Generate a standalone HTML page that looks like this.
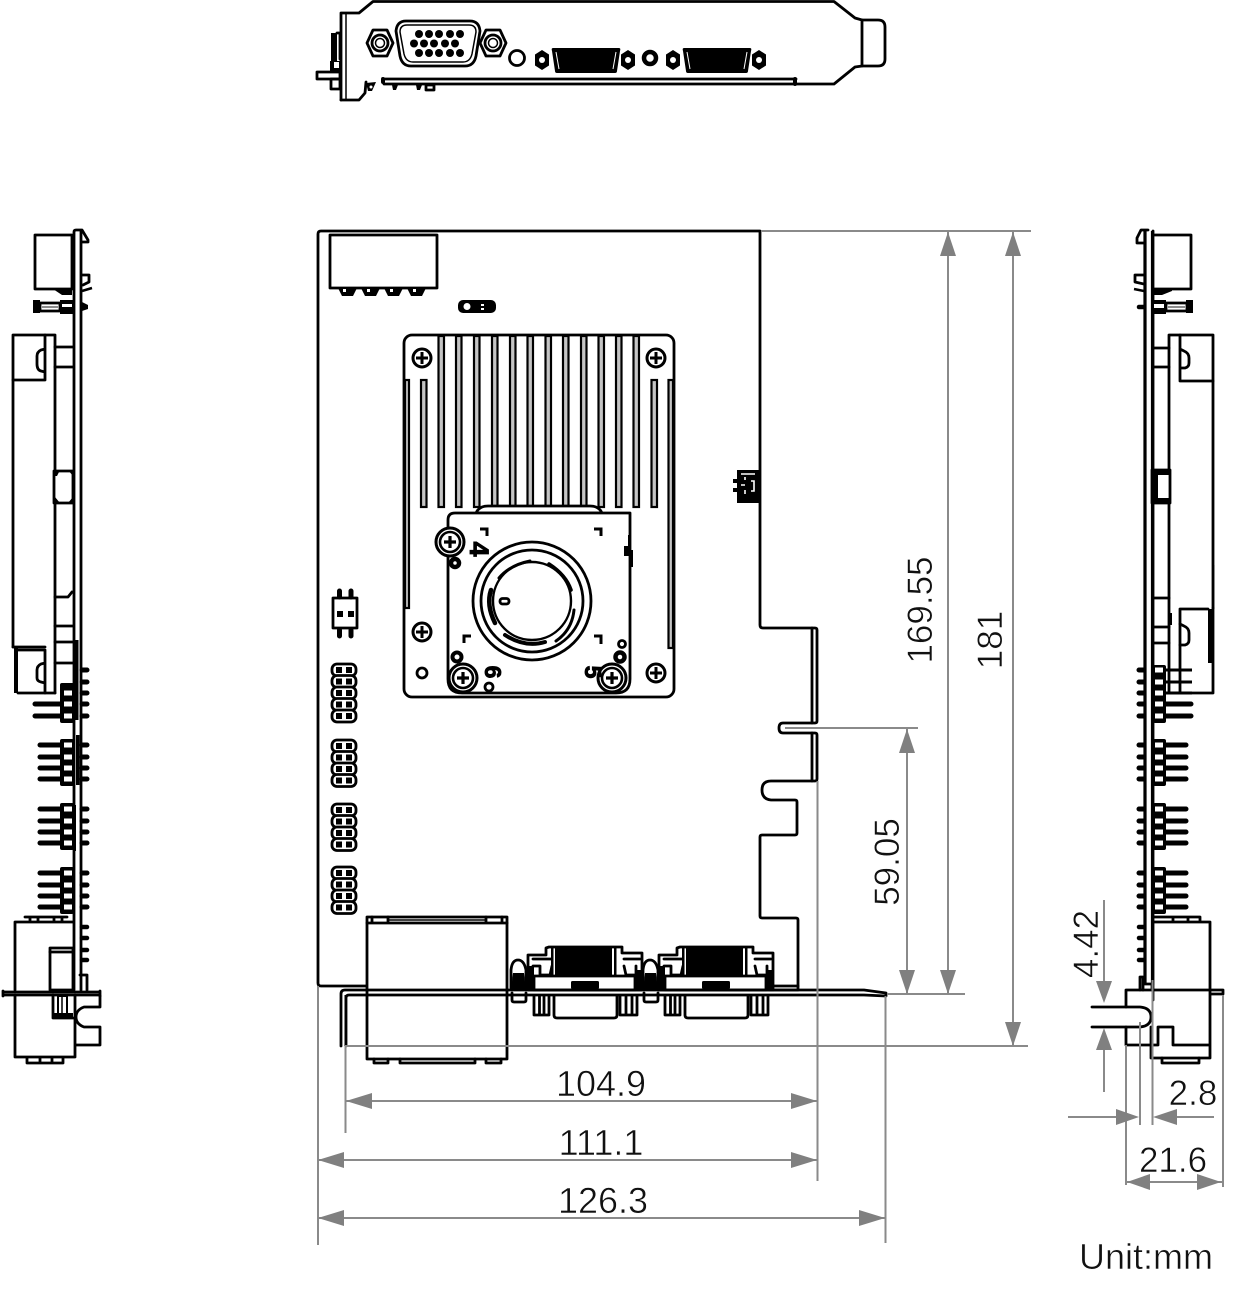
<!DOCTYPE html>
<html><head><meta charset="utf-8"><style>
html,body{margin:0;padding:0;background:#fff}
svg{display:block}
text{font-family:"Liberation Sans",sans-serif;font-size:35px;fill:#111;stroke:#fff;stroke-width:.55px}
.k{fill:none;stroke:#000;stroke-width:2.8;stroke-linejoin:round;stroke-linecap:round}
.t{fill:none;stroke:#000;stroke-width:1.5}
.w{fill:#fff;stroke:#000;stroke-width:2.8;stroke-linejoin:round}
.b{fill:#000;stroke:none}
.c{fill:#fff;stroke:none}
.g{fill:none;stroke:#8a8a8a;stroke-width:2}
.a{fill:#808080;stroke:none}
.p{stroke:#000;stroke-width:5;stroke-linecap:round;fill:none}
.p2{stroke:#000;stroke-width:4.500;stroke-linecap:round;fill:none}
.f{fill:#c4c4c4;stroke:#000;stroke-width:2.2}
.n{stroke:#000;fill:#000;stroke-width:.9}
</style></head><body>
<svg xmlns="http://www.w3.org/2000/svg" width="1237" height="1295" viewBox="0 0 1237 1295">
<defs>
<g id="sc"><circle r="9" fill="#fff" stroke="#000" stroke-width="3"/><path d="M-6 0H6M0-6V6" stroke="#000" stroke-width="3"/></g>
<g id="sc2"><circle r="14" fill="#fff" stroke="#000" stroke-width="3"/><circle r="10" fill="#fff" stroke="#000" stroke-width="2.600"/><path d="M-6 0H6M0-6V6" stroke="#000" stroke-width="3.200"/></g>
<g id="hdr5"><rect x="0" y="0" width="24" height="12" rx="5" class="w"/><rect x="4" y="3" width="6" height="6" class="b"/><rect x="14" y="3" width="6" height="6" class="b"/></g>
<g id="vga">
<path class="w" d="M528 990V955H546V948L549 947H622V953H642V990Z"/>
<rect x="555" y="947" width="57" height="29" class="b"/>
<rect x="551" y="948" width="2.500" height="27" class="b"/><rect x="614" y="948" width="2.500" height="27" class="b"/>
<path class="k" d="M533 959H552M533 966H540V975H550L552 966M624 959H640M636 966V975H626L624 966"/>
<rect x="534" y="976" width="101" height="14" class="w"/>
<rect x="571" y="981" width="28" height="8" rx="1.500" class="b"/>
<rect x="528" y="966" width="6" height="24" class="b"/><rect x="635" y="970" width="6" height="20" class="b"/>
<path class="k" d="M534 996V1015H549V996M539.500 996V1015M544 996V1015M620 996V1015H637V996M626 996V1015M632 996V1015M554 996V1015Q554 1018 557 1018H614Q617 1018 617 1015V996"/>
</g>
<g id="sd">
<path class="w" d="M511 988V970Q512 960 518 960T526 970V988Z"/>
<path class="b" d="M513 973H524L526 990H511Z"/>
<path class="k" d="M512 993V1000Q512 1002 514 1002H524Q526 1002 526 1000V993"/>
</g>
<g id="hexs"><path d="M0-10L7-5.500V5.500L0 10L-7 5.500V-5.500Z" class="b"/><circle r="3" fill="#fff"/></g>
</defs>

<!-- top bracket view -->
<g>
<path class="k" d="M341 100V13H359L373 1.500H834L855 18L862 20H878Q885 20 885 27V59Q885 66 878 66H862L855 67L834 84H797"/>
<path class="k" d="M862 20V66"/>
<path class="k" d="M341 100H359L365 93L366 82"/>
<path class="t" d="M346 14V99"/>
<path class="k" d="M384 79H796M384 84H796"/>
<rect x="381" y="77" width="4" height="7" rx="2" class="b"/><rect x="793" y="77" width="4" height="9" rx="2" class="b"/>
<path class="k" d="M317 72H340V79H317Z"/>
<rect x="331" y="33" width="6" height="28" class="b"/><path class="k" d="M337 33H340V59"/>
<rect x="330" y="61" width="10" height="11" class="b"/><rect x="334" y="62" width="5" height="6" fill="#fff"/>
<rect x="331" y="79" width="9" height="10" class="k"/>
<path class="b" d="M366 83L376 82L372 91H368Z"/><circle cx="371" cy="87" r="1.500" fill="#fff"/>
<path class="b" d="M392 85H398L396 90H393ZM416 85H422L420 90H417Z"/>
<rect x="426" y="85" width="8" height="5" class="k"/>
<!-- VGA -->
<path class="k" d="M406 21H470Q479 21 480 31L476 56Q474 66 465 66H411Q402 66 400 56L396 31Q397 21 406 21Z"/>
<path class="t" d="M407 25H469Q476 25 476 32L472 54Q470 62 463 62H413Q406 62 404 54L400 32Q400 25 407 25Z"/>
<g class="b"><circle cx="419" cy="34" r="4"/><circle cx="429" cy="34" r="4"/><circle cx="439" cy="34" r="4"/><circle cx="450" cy="34" r="4"/><circle cx="460" cy="34" r="4"/>
<circle cx="414" cy="43.500" r="4"/><circle cx="424" cy="43.500" r="4"/><circle cx="434" cy="43.500" r="4"/><circle cx="445" cy="43.500" r="4"/><circle cx="455" cy="43.500" r="4"/>
<circle cx="419" cy="53" r="4"/><circle cx="429" cy="53" r="4"/><circle cx="439" cy="53" r="4"/><circle cx="450" cy="53" r="4"/><circle cx="460" cy="53" r="4"/></g>
<path class="k" d="M367 43L373 30H387L393 43L387 56H373Z"/><circle cx="380" cy="43" r="8" class="k"/><circle cx="380" cy="43" r="4.500" class="t"/>
<path class="k" d="M480 43L486 30H500L506 43L500 56H486Z"/><circle cx="493" cy="43" r="8" class="k"/><circle cx="493" cy="43" r="4.500" class="t"/>
<circle cx="517" cy="58" r="7.500" class="k"/>
<use href="#hexs" x="542" y="60"/><use href="#hexs" x="628" y="60"/>
<use href="#hexs" x="673" y="60"/><use href="#hexs" x="759" y="60"/>
<path class="b" d="M553 48H619Q621 48 620 51L617 71Q617 73 615 73H557Q555 73 555 71L552 51Q551 48 553 48Z"/><path d="M556 52L559 69M616 52L613 69" stroke="#fff" stroke-width="1"/>
<path class="b" d="M684 48H750Q752 48 751 51L748 71Q748 73 746 73H688Q686 73 686 71L683 51Q682 48 684 48Z"/><path d="M687 52L690 69M747 52L744 69" stroke="#fff" stroke-width="1"/>
<circle cx="650" cy="58" r="6" fill="#fff" stroke="#000" stroke-width="4.500"/>
</g>

<!-- main board -->
<path class="k" d="M367 986H321Q318 986 318 983V234Q318 231 321 231H760V625Q760 628 763 628H815Q817 628 817 630V721Q817 723 815 723H783Q779 723 779 728T783 733H815Q817 733 817 735V779Q817 781 815 781H771Q762 781 762 790T771 800H795Q797 800 797 802V833Q797 835 795 835H762Q760 835 760 837V916Q760 918 762 918H796Q798 918 798 920V986"/>
<path class="k" d="M812 628V723M812 733V781"/>

<rect x="330" y="235" width="107" height="53" class="w"/>
<path class="b" d="M338 288H357L353 296H342ZM361 288H380L376 296H365ZM384 288H403L399 296H388ZM407 288H426L422 296H411Z"/>
<rect x="343" y="289" width="3" height="3" fill="#fff"/><rect x="367" y="289" width="3" height="3" fill="#fff"/><rect x="390" y="289" width="3" height="3" fill="#fff"/><rect x="413" y="289" width="3" height="3" fill="#fff"/>
<rect x="458" y="300" width="38" height="13" rx="5" class="b"/><circle cx="467" cy="306.500" r="3.500" fill="#fff"/><rect x="481" y="304" width="3" height="2" fill="#fff"/><rect x="481" y="308" width="3" height="2" fill="#fff"/>

<rect x="737" y="470" width="22" height="33" class="b"/>
<path d="M741 474H755M745 477V480M745 485H741M745 490V494M751 481H754V491H751" stroke="#fff" stroke-width="1.600" fill="none"/>
<path class="b" d="M733 479H738V483H733ZM733 488H738V492H733Z"/>

<!-- heatsink -->
<rect x="404" y="335" width="270" height="362" rx="8" class="w"/>
<g class="f">
<rect x="438.500" y="336" width="5.500" height="171"/><rect x="456" y="336" width="5.500" height="171"/><rect x="474" y="336" width="5.500" height="171"/><rect x="492" y="336" width="5.500" height="171"/><rect x="510" y="336" width="5.500" height="171"/><rect x="527.500" y="336" width="5.500" height="171"/><rect x="545.500" y="336" width="5.500" height="171"/><rect x="563" y="336" width="5.500" height="171"/><rect x="581" y="336" width="5.500" height="171"/><rect x="598.500" y="336" width="5.500" height="171"/><rect x="616" y="336" width="5.500" height="171"/><rect x="633.500" y="336" width="5.500" height="171"/>
<rect x="421" y="380" width="5.500" height="127"/><rect x="651.500" y="380" width="5.500" height="127"/>
<rect x="405" y="380" width="4" height="228"/><rect x="668.500" y="380" width="4.500" height="268"/>
</g>
<use href="#sc" x="422" y="358"/><use href="#sc" x="656" y="358"/><use href="#sc" x="422" y="632"/><use href="#sc" x="656" y="673"/>
<circle cx="422" cy="673" r="5" class="k"/>
<!-- CPU plate -->
<path class="w" d="M476 513Q479 506 488 506H590Q599 506 602 513Z"/>
<path class="w" d="M455 513H630V679Q630 693 616 693H462Q448 693 448 679V520Q448 513 455 513Z"/>
<path class="b" d="M628 535H631V550H633V567H630V556H624V546H628Z"/>
<circle cx="532" cy="601" r="59" class="k"/>
<circle cx="532" cy="601" r="51" class="k"/>
<circle cx="532" cy="601" r="39" fill="#fff" stroke="#000" stroke-width="2.400"/>
<g fill="none" stroke="#000" stroke-width="3.600" stroke-linecap="round">
<path d="M499 578Q510 565 530 561" stroke-width="3"/>
<path d="M549 564Q566 575 571 590"/>
<path d="M491 590Q486 605 495 623" stroke-width="4.500"/>
<path d="M574 610Q572 630 556 641" stroke-width="3"/>
<path d="M505 635Q525 648 545 642" stroke-width="4"/>
</g>
<rect x="500" y="598.500" width="9" height="5.500" rx="2.500" class="k"/>
<use href="#sc2" x="450" y="542"/>
<use href="#sc2" x="463" y="678"/><use href="#sc2" x="612" y="678"/>
<circle cx="455" cy="563" r="4" fill="#fff" stroke="#000" stroke-width="4.500"/>
<circle cx="457" cy="657" r="4.500" fill="#fff" stroke="#000" stroke-width="4"/>
<circle cx="620" cy="657" r="4.500" fill="#fff" stroke="#000" stroke-width="4.500"/>
<circle cx="622" cy="644" r="3.500" class="k"/>
<circle cx="489" cy="687" r="4" class="k"/>
<path fill="none" stroke="#000" stroke-width="3" d="M480 529H487V536M594 529H601V536M464 643V636H471M594 636H601V644"/>
<text class="n" transform="translate(468 549) rotate(90)" style="font-size:27px;font-weight:bold;stroke:#000;fill:#000;stroke-width:.9" text-anchor="middle" y="-2">4</text>
<text class="n" transform="translate(482 672) rotate(90)" style="font-size:23px;font-weight:bold;stroke:#000;fill:#000;stroke-width:.9" text-anchor="middle" y="-3">6</text>
<text class="n" transform="translate(582 672) rotate(90)" style="font-size:23px;font-weight:bold;stroke:#000;fill:#000;stroke-width:.9" text-anchor="middle" y="-3">5</text>

<!-- headers -->
<path class="k" d="M333 598H357V628H333Z"/>
<path class="p" d="M339.500 591V597M351 591V597M339.500 630V636M351 630V636"/>
<rect x="337" y="611" width="6" height="6" class="b"/><rect x="348" y="611" width="6" height="6" class="b"/>
<g><use href="#hdr5" x="332" y="664"/><use href="#hdr5" x="332" y="675.500"/><use href="#hdr5" x="332" y="687"/><use href="#hdr5" x="332" y="698.500"/><use href="#hdr5" x="332" y="710"/></g>
<g><use href="#hdr5" x="332" y="740"/><use href="#hdr5" x="332" y="751.500"/><use href="#hdr5" x="332" y="763"/><use href="#hdr5" x="332" y="774.500"/></g>
<g><use href="#hdr5" x="332" y="804"/><use href="#hdr5" x="332" y="815.500"/><use href="#hdr5" x="332" y="827"/><use href="#hdr5" x="332" y="838.500"/></g>
<g><use href="#hdr5" x="332" y="867"/><use href="#hdr5" x="332" y="878.500"/><use href="#hdr5" x="332" y="890"/><use href="#hdr5" x="332" y="901.500"/></g>

<!-- RJ block -->
<rect x="367" y="917" width="140" height="142" class="w"/>
<path class="k" d="M367 923H507M372 917V923M388 917V923M486 917V923M502 917V923"/>
<path class="t" d="M388 920H486"/>
<path class="k" d="M374 1059V1063H388V1059M400 1059V1063H475V1059M486 1059V1063H501V1059"/>

<use href="#vga"/><use href="#vga" x="131"/>
<use href="#sd"/><use href="#sd" x="132"/>
<rect x="770" y="986" width="28" height="4" class="k"/>

<!-- bracket -->
<path class="k" d="M341 1046V994Q341 990 345 990H864L886 993V996L864 995H349Q346 995 346 998V1046"/>
<path d="M345 995V1046" stroke="#000" stroke-width="1"/>

<!-- left side view -->
<g>
<path class="k" d="M74 990V232Q74 230 76 230H82L88 240V242H82"/>
<path class="k" d="M81 231V990"/>
<rect x="35" y="235" width="37" height="54" class="w"/>
<path class="b" d="M53 289H72V295H62Z"/>
<path class="k" d="M82 275H89V282L83 285"/><path d="M82 291L92 288" stroke="#000" stroke-width="2.500"/>
<rect x="33" y="300" width="7" height="13" class="b"/>
<path class="k" d="M40 303H60V311H40Z"/><path d="M42 307H58" stroke="#666" stroke-width="1.500"/>
<rect x="60" y="300" width="13" height="14" class="b"/><rect x="62" y="304" width="10" height="3" fill="#fff"/>
<path class="b" d="M82 302L88 305V309L82 311Z"/>
<path class="k" d="M13 647V335H55V693"/>
<path class="k" d="M45 335V380H13M45 349L41 350Q37 352 37 356V364Q37 370 41 371L45 372"/>
<path class="k" d="M55 347H73M55 367H73"/>
<path class="w" d="M54 471H73V503H54Z"/>
<path class="b" d="M54 470H60L57 476H54ZM73 470H68L73 476ZM54 503H60L55 497ZM73 503H68L73 497Z"/>
<path class="k" d="M55 597H68L72 592M55 626H73M55 642H73M55 663H73M13 647H45"/>
<rect x="14" y="647" width="4" height="46" class="b"/>
<path class="k" d="M18 650H45V693H18M45 663L41 664Q37 666 37 670V678Q37 681 41 682L45 683"/>
<path class="k" d="M45 693H55"/>
<rect x="75" y="640" width="3.500" height="80" class="b"/>
<rect x="76" y="735" width="3.500" height="50" class="b"/>
<rect x="74" y="805" width="2" height="46" class="b"/>
<!-- group 1 -->
<rect x="60" y="683" width="14" height="40" rx="2" class="b"/>
<rect x="62" y="683" width="12" height="4" class="b"/>
<rect x="64" y="690.500" width="8" height="5" class="c"/><rect x="64" y="701.500" width="8" height="5" class="c"/><rect x="64" y="713.500" width="8" height="5" class="c"/>
<path class="p" d="M82 670H87M82 682H87M82 693H87M82 704H87M82 716H87M35 704H60M35 716H60"/>
<!-- group 2-4 -->
<g id="gl">
<rect x="60" y="739" width="14" height="47" rx="2" class="b"/>
<rect x="64" y="742.500" width="8" height="5" class="c"/><rect x="64" y="754.500" width="8" height="5" class="c"/><rect x="64" y="765.500" width="8" height="5" class="c"/><rect x="64" y="776.500" width="8" height="5" class="c"/>
<path class="p" d="M40 745H60M40 757H60M40 768H60M40 779H60M82 745H87M82 757H87M82 768H87M82 779H87"/>
</g>
<use href="#gl" y="64"/><use href="#gl" y="128"/>
<path class="k" d="M15 990V922H73M25 917H67M30 917V922M38 917V922M54 917V922M62 917V922"/>
<path class="w" d="M50 990V948H73V990Z"/><path class="k" d="M50 952H73"/>
<path class="p2" d="M82 927H87M82 938H87M82 950H87M82 960H87"/>
<path class="k" d="M80 975H87V990"/>
<path class="k" d="M3 992H100M3 995H100M3 991V996M100 991V996"/>
<path class="k" d="M100 996V1007H84Q76 1010 76 1017T84 1027H100V1045H75M15 995V1057H75V995M53 995V1018H73M27 1057V1063H63V1057M40 1057V1063M52 1057V1063"/>
<rect x="58" y="996" width="9" height="22" fill="#fff" stroke="#000" stroke-width="2"/>
<path d="M62 997V1017" stroke="#000" stroke-width="1.500"/>
<rect x="53" y="1013" width="20" height="5" class="b"/>
</g>

<!-- right side view -->
<g>
<path class="k" d="M1148 230H1141L1137 238V243H1144"/>
<path class="k" d="M1153 231V1000"/>
<path d="M1145 230V985M1152.500 231V985" stroke="#000" stroke-width="3.200"/>
<rect x="1153" y="235" width="38" height="54" class="w"/>
<path class="b" d="M1153 289H1172V291L1162 295H1153Z"/>
<path class="k" d="M1144 275H1135V282L1144 284"/><path d="M1134 289L1144 291" stroke="#000" stroke-width="2.500"/>
<rect x="1186" y="300" width="7" height="13" class="b"/>
<path class="k" d="M1166 303H1187V311H1166Z"/><path d="M1168 307H1185" stroke="#666" stroke-width="1.500"/>
<rect x="1153" y="300" width="13" height="14" class="b"/>
<rect x="1154" y="304" width="10" height="4" fill="#fff"/>
<path class="p2" d="M1139 307H1144"/>
<path class="k" d="M1169 693V335H1213V608"/>
<path class="k" d="M1180 335V381H1213M1180 349L1184 351Q1189 353 1189 358V363Q1189 367 1185 368L1180 368"/>
<path class="k" d="M1153 348H1169M1153 367H1169"/>
<rect x="1152" y="470" width="18" height="33" class="w"/>
<rect x="1152" y="470" width="6" height="33" class="b"/><rect x="1152" y="470" width="18" height="5" class="b"/><rect x="1152" y="498" width="18" height="5" class="b"/>
<path class="k" d="M1153 598H1169M1153 627H1169M1153 643H1169"/>
<path class="b" d="M1169 613H1172V625H1169Z"/>
<path class="k" d="M1180 693V609H1208M1213 608V693H1170"/>
<rect x="1208" y="609" width="5" height="54" class="b"/>
<path class="t" d="M1213.500 565V609" stroke="#777"/>
<path class="k" d="M1180 624L1184 626Q1189 628 1189 633V640Q1189 644 1185 645L1180 645"/>
<!-- group 1 -->
<path class="p" d="M1139 670H1144M1139 682H1144M1139 693H1144M1139 704H1144M1139 716H1144M1165 704H1191M1165 716H1191"/>
<path d="M1165 670H1192M1165 682H1192M1165 693H1192" stroke="#000" stroke-width="3" fill="none"/>
<rect x="1153" y="665" width="13" height="58" rx="2" class="b"/>
<rect x="1155" y="667.500" width="8" height="5" class="c"/><rect x="1155" y="679.500" width="8" height="5" class="c"/><rect x="1155" y="690.500" width="8" height="5" class="c"/><rect x="1155" y="701.500" width="8" height="5" class="c"/><rect x="1155" y="713.500" width="8" height="5" class="c"/>
<g id="gr">
<rect x="1153" y="739" width="13" height="47" rx="2" class="b"/>
<rect x="1155" y="742.500" width="8" height="5" class="c"/><rect x="1155" y="754.500" width="8" height="5" class="c"/><rect x="1155" y="765.500" width="8" height="5" class="c"/><rect x="1155" y="776.500" width="8" height="5" class="c"/>
<path class="p" d="M1139 745H1144M1139 757H1144M1139 768H1144M1139 779H1144M1166 745H1186M1166 757H1186M1166 768H1186M1166 779H1186"/>
</g>
<use href="#gr" y="64"/><use href="#gr" y="128"/>
<path class="k" d="M1153 922H1210V990M1153 917H1200V922M1173 917V922M1188 917V922"/>
<path class="p2" d="M1139 927H1144M1139 938H1144M1139 950H1144M1139 960H1144"/>
<path class="k" d="M1140 990V977H1143V990M1145 984H1152V990"/>
<path class="k" d="M1126 990H1210M1210 990H1223V994H1210M1126 990V1007M1126 1027V1045H1158V1027H1173V1045H1210V990M1151 1027V1058H1210V1045"/>
<path class="k" d="M1092 1007H1140Q1151 1008 1151 1017T1140 1027H1092"/>
<path class="k" d="M1162 1058V1063H1199V1058"/>
</g>

<!-- dims -->
<g class="g">
<path d="M761 231H1031M785 728H918M887 994H965M345 1046H1028"/>
<path d="M948 232V994M1013 232V1046M907 729V994"/>
<path d="M345.500 1046V1133M817.500 781V1181M318 986V1245M885.500 996V1243"/>
<path d="M346 1101H817M318 1160H817M318 1218H885"/>
<path d="M1104 900V985M1104 1050V1092"/>
<path d="M1126 1045V1185M1140 1022V1125M1152.500 980V1125M1223 995V1187"/>
<path d="M1068 1117H1116M1177 1117H1214M1127 1182H1222"/>
</g>
<g class="a">
<path d="M948 232L940 256H956ZM948 994L940 970H956Z"/>
<path d="M1013 232L1005 256H1021ZM1013 1046L1005 1022H1021Z"/>
<path d="M907 729L899 753H915ZM907 994L899 970H915Z"/>
<path d="M346 1101L372 1093V1109ZM817 1101L791 1093V1109Z"/>
<path d="M318 1160L344 1152V1168ZM817 1160L791 1152V1168Z"/>
<path d="M318 1218L344 1210V1226ZM885 1218L859 1210V1226Z"/>
<path d="M1104 1003L1096 981H1112ZM1104 1028L1096 1050H1112Z"/>
<path d="M1139 1117L1116 1109V1125ZM1153 1117L1177 1109V1125Z"/>
<path d="M1127 1182L1150 1174V1190ZM1221 1182L1197 1174V1190Z"/>
</g>
<text x="601" y="1096" text-anchor="middle" style="font-size:36px">104.9</text>
<text x="601" y="1155" text-anchor="middle" style="font-size:36px">111.1</text>
<text x="603" y="1213" text-anchor="middle" style="font-size:36px">126.3</text>
<text transform="translate(932 610) rotate(-90)" text-anchor="middle">169.55</text>
<text transform="translate(1002 640) rotate(-90)" text-anchor="middle">181</text>
<text transform="translate(899 862) rotate(-90)" text-anchor="middle">59.05</text>
<text transform="translate(1098 944) rotate(-90)" text-anchor="middle">4.42</text>
<text x="1193" y="1105" text-anchor="middle">2.8</text>
<text x="1173" y="1172" text-anchor="middle">21.6</text>
<text x="1079" y="1269" style="font-size:36px">Unit:mm</text>
</svg>
</body></html>
